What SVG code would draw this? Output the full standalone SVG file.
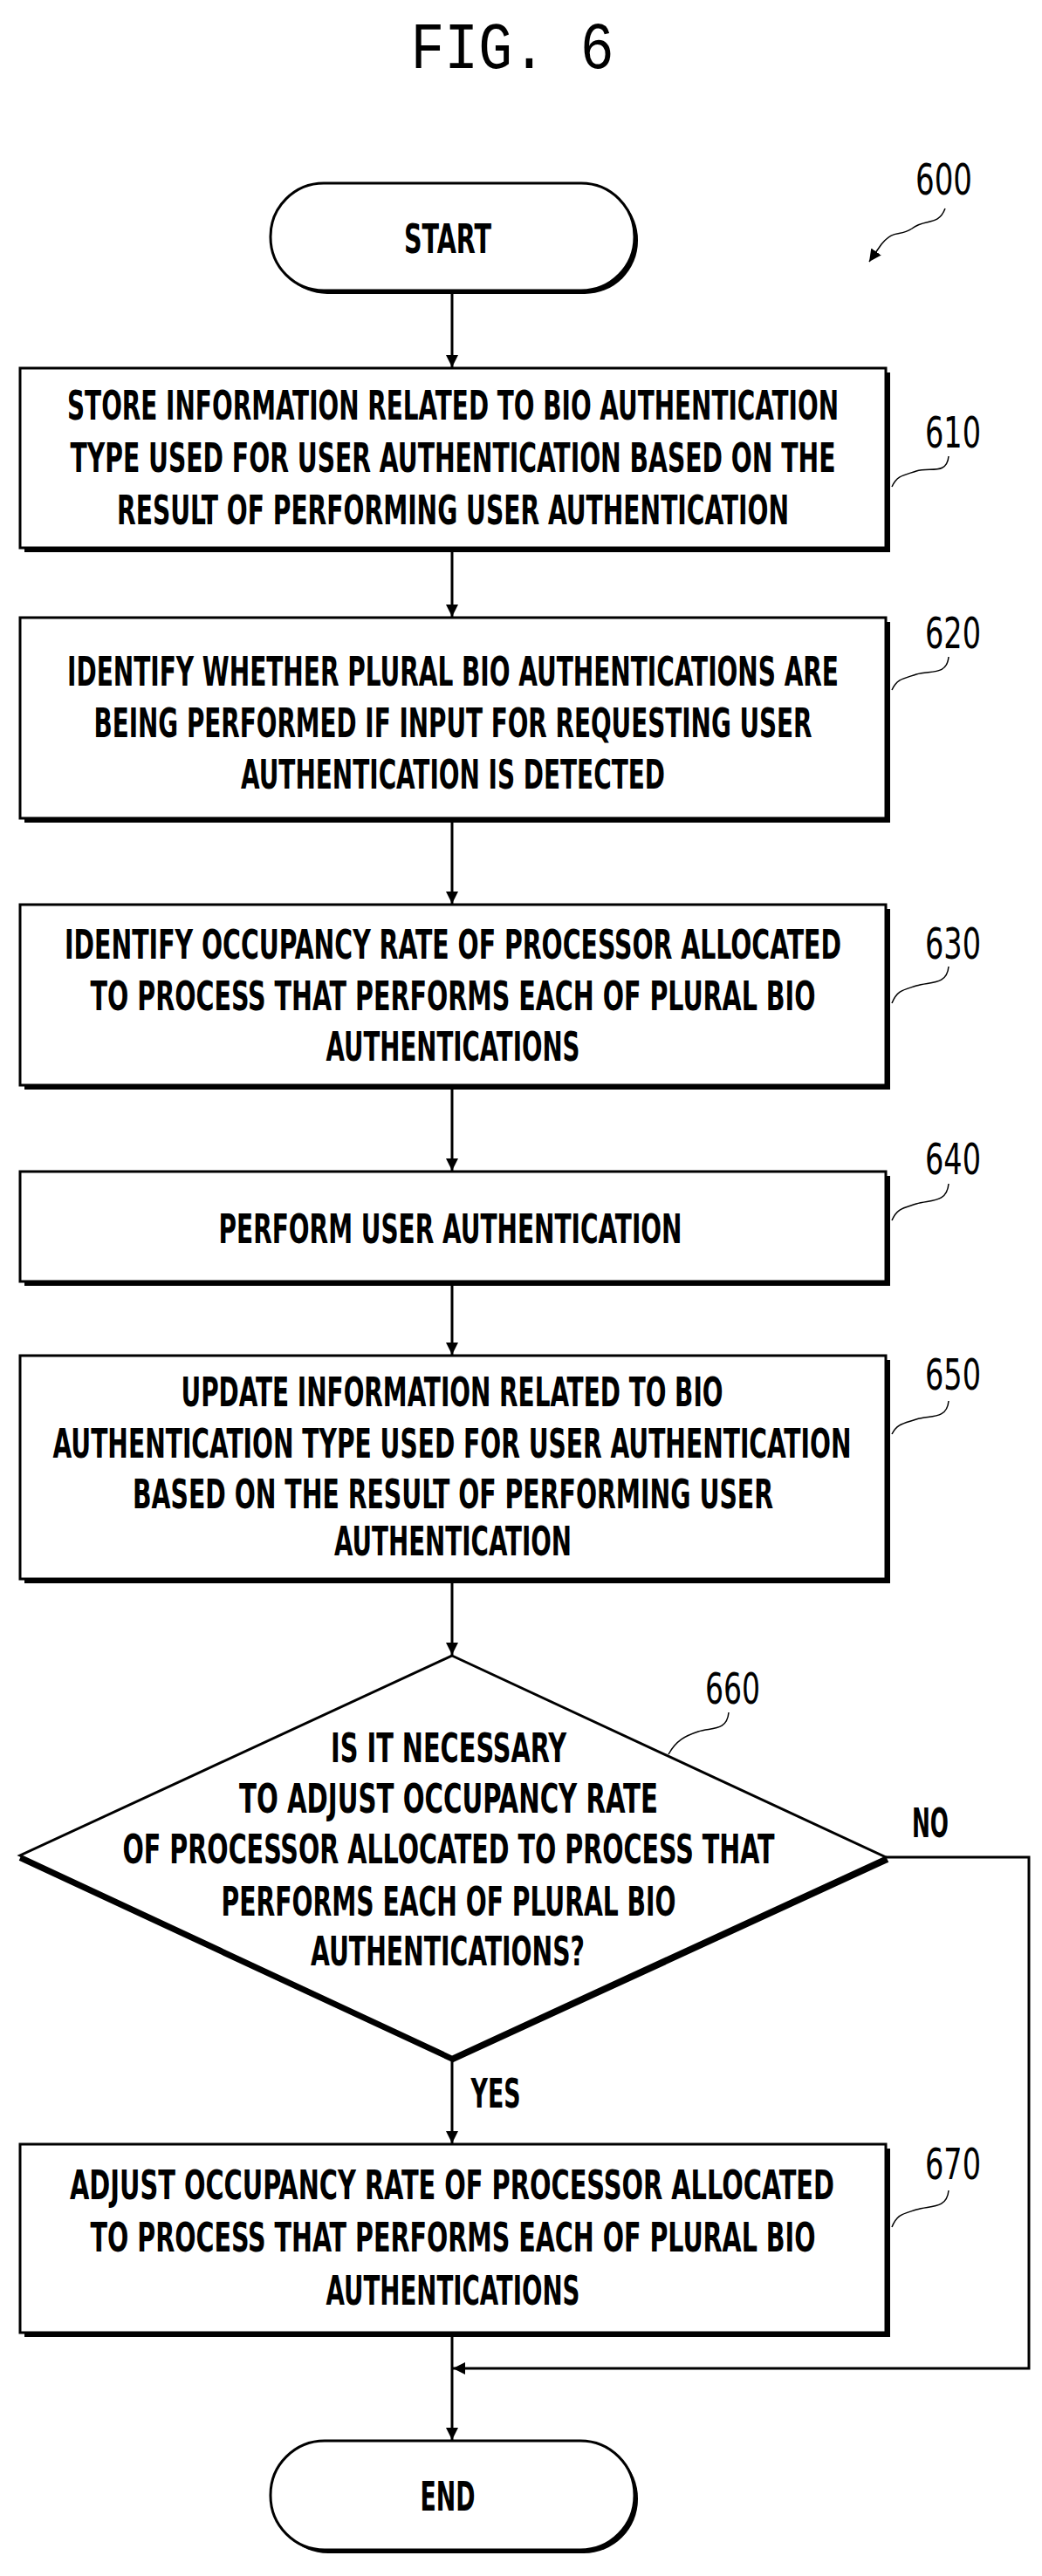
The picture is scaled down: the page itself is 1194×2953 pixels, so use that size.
<svg xmlns="http://www.w3.org/2000/svg" width="1194" height="2953" viewBox="0 0 1194 2953">
<defs>
<style>
.t{font-family:"Liberation Sans Narrow","DejaVu Sans Condensed","Liberation Sans",sans-serif;font-size:46px;font-weight:bold;text-anchor:middle;fill:#000}
.n{font-family:"Liberation Sans Narrow","DejaVu Sans Condensed","Liberation Sans",sans-serif;font-size:50px;fill:#000}
.b{fill:#fff;stroke:#000;stroke-width:3}
.s{fill:none;stroke:#000;stroke-width:6}
.l{fill:none;stroke:#000;stroke-width:3}
.q{fill:none;stroke:#000;stroke-width:1.5}
</style>
<marker id="a" viewBox="0 0 10 10" refX="10" refY="5" markerWidth="14" markerHeight="22" markerUnits="userSpaceOnUse" orient="auto"><path d="M0,0 L10,5 L0,10 z" fill="#000"/></marker>
</defs>
<rect width="1194" height="2953" fill="#fff"/>
<text x="587" y="78" font-family="Liberation Mono,monospace" font-size="76" text-anchor="middle" textLength="233" lengthAdjust="spacingAndGlyphs">FIG. 6</text>
<g id="label600"><text class="n" x="1049" y="223" textLength="65" lengthAdjust="spacingAndGlyphs">600</text>
<path class="q" d="M1083,239 C1075,260 1060,250 1045,262 C1030,272 1025,262 1010,280 L996,300" marker-end="url(#a)"/></g>
<g id="connectors">
<line class="l" x1="518" y1="334" x2="518" y2="421" marker-end="url(#a)"/>
<line class="l" x1="518" y1="632" x2="518" y2="707" marker-end="url(#a)"/>
<line class="l" x1="518" y1="942" x2="518" y2="1036" marker-end="url(#a)"/>
<line class="l" x1="518" y1="1248" x2="518" y2="1342" marker-end="url(#a)"/>
<line class="l" x1="518" y1="1473" x2="518" y2="1553" marker-end="url(#a)"/>
<line class="l" x1="518" y1="1814" x2="518" y2="1897" marker-end="url(#a)"/>
<line class="l" x1="518" y1="2360" x2="518" y2="2457" marker-end="url(#a)"/>
<line class="l" x1="518" y1="2678" x2="518" y2="2797" marker-end="url(#a)"/>
<polyline class="l" points="1015,2129 1179,2129 1179,2715 519,2715" marker-end="url(#a)"/>
<text class="t" x="568" y="2416" textLength="57" lengthAdjust="spacingAndGlyphs">YES</text>
<text class="t" x="1066" y="2106" textLength="42" lengthAdjust="spacingAndGlyphs">NO</text>
</g>
<g id="start">
<rect x="314" y="214" width="417" height="123" rx="61" fill="#000"/>
<rect class="b" x="310" y="210" width="417" height="123" rx="61"/>
<text class="t" x="513" y="290" textLength="100" lengthAdjust="spacingAndGlyphs">START</text>
</g>
<g id="n610">
<rect x="28" y="427" width="992" height="206" fill="#000"/>
<rect class="b" x="23" y="422" width="992" height="206"/>
<text class="t" x="519" y="481" textLength="884" lengthAdjust="spacingAndGlyphs">STORE INFORMATION RELATED TO BIO AUTHENTICATION</text>
<text class="t" x="519" y="541" textLength="877" lengthAdjust="spacingAndGlyphs">TYPE USED FOR USER AUTHENTICATION BASED ON THE</text>
<text class="t" x="519" y="601" textLength="770" lengthAdjust="spacingAndGlyphs">RESULT OF PERFORMING USER AUTHENTICATION</text>
<text class="n" x="1060" y="513" textLength="64" lengthAdjust="spacingAndGlyphs">610</text>
<path class="q" d="M1087,523 C1085,545 1065,535 1050,540 C1035,545 1028,545 1022,558"/>
</g>
<g id="n620">
<rect x="28" y="713" width="992" height="230" fill="#000"/>
<rect class="b" x="23" y="708" width="992" height="230"/>
<text class="t" x="519" y="786" textLength="884" lengthAdjust="spacingAndGlyphs">IDENTIFY WHETHER PLURAL BIO AUTHENTICATIONS ARE</text>
<text class="t" x="519" y="845" textLength="823" lengthAdjust="spacingAndGlyphs">BEING PERFORMED IF INPUT FOR REQUESTING USER</text>
<text class="t" x="519" y="904" textLength="486" lengthAdjust="spacingAndGlyphs">AUTHENTICATION IS DETECTED</text>
<text class="n" x="1060" y="743" textLength="64" lengthAdjust="spacingAndGlyphs">620</text>
<path class="q" d="M1087,753 C1085,775 1065,768 1050,773 C1035,778 1028,778 1022,791"/>
</g>
<g id="n630">
<rect x="28" y="1042" width="992" height="207" fill="#000"/>
<rect class="b" x="23" y="1037" width="992" height="207"/>
<text class="t" x="519" y="1099" textLength="890" lengthAdjust="spacingAndGlyphs">IDENTIFY OCCUPANCY RATE OF PROCESSOR ALLOCATED</text>
<text class="t" x="519" y="1158" textLength="831" lengthAdjust="spacingAndGlyphs">TO PROCESS THAT PERFORMS EACH OF PLURAL BIO</text>
<text class="t" x="519" y="1216" textLength="291" lengthAdjust="spacingAndGlyphs">AUTHENTICATIONS</text>
<text class="n" x="1060" y="1099" textLength="64" lengthAdjust="spacingAndGlyphs">630</text>
<path class="q" d="M1087,1108 C1085,1130 1065,1125 1050,1130 C1035,1135 1028,1135 1022,1150"/>
</g>
<g id="n640">
<rect x="28" y="1348" width="992" height="126" fill="#000"/>
<rect class="b" x="23" y="1343" width="992" height="126"/>
<text class="t" x="516" y="1425" textLength="531" lengthAdjust="spacingAndGlyphs">PERFORM USER AUTHENTICATION</text>
<text class="n" x="1060" y="1346" textLength="64" lengthAdjust="spacingAndGlyphs">640</text>
<path class="q" d="M1087,1357 C1085,1380 1065,1375 1050,1380 C1035,1385 1028,1385 1022,1399"/>
</g>
<g id="n650">
<rect x="28" y="1559" width="992" height="256" fill="#000"/>
<rect class="b" x="23" y="1554" width="992" height="256"/>
<text class="t" x="518" y="1612" textLength="621" lengthAdjust="spacingAndGlyphs">UPDATE INFORMATION RELATED TO BIO</text>
<text class="t" x="518" y="1671" textLength="915" lengthAdjust="spacingAndGlyphs">AUTHENTICATION TYPE USED FOR USER AUTHENTICATION</text>
<text class="t" x="519" y="1729" textLength="734" lengthAdjust="spacingAndGlyphs">BASED ON THE RESULT OF PERFORMING USER</text>
<text class="t" x="519" y="1783" textLength="272" lengthAdjust="spacingAndGlyphs">AUTHENTICATION</text>
<text class="n" x="1060" y="1593" textLength="64" lengthAdjust="spacingAndGlyphs">650</text>
<path class="q" d="M1087,1606 C1085,1628 1065,1622 1050,1627 C1035,1632 1028,1632 1022,1644"/>
</g>
<g id="n660">
<polyline class="s" points="1017,2132 519,2361 23,2130"/>
<polygon class="b" points="518,1898 1015,2129 518,2358 23,2127"/>
<text class="t" x="514" y="2020" textLength="270" lengthAdjust="spacingAndGlyphs">IS IT NECESSARY</text>
<text class="t" x="514" y="2078" textLength="480" lengthAdjust="spacingAndGlyphs">TO ADJUST OCCUPANCY RATE</text>
<text class="t" x="514" y="2136" textLength="747" lengthAdjust="spacingAndGlyphs">OF PROCESSOR ALLOCATED TO PROCESS THAT</text>
<text class="t" x="514" y="2196" textLength="521" lengthAdjust="spacingAndGlyphs">PERFORMS EACH OF PLURAL BIO</text>
<text class="t" x="513" y="2253" textLength="314" lengthAdjust="spacingAndGlyphs">AUTHENTICATIONS?</text>
<text class="n" x="808" y="1953" textLength="63" lengthAdjust="spacingAndGlyphs">660</text>
<path class="q" d="M835,1963 C833,1985 815,1980 800,1985 C785,1990 775,1995 766,2011"/>
</g>
<g id="n670">
<rect x="28" y="2463" width="992" height="216" fill="#000"/>
<rect class="b" x="23" y="2458" width="992" height="216"/>
<text class="t" x="518" y="2521" textLength="876" lengthAdjust="spacingAndGlyphs">ADJUST OCCUPANCY RATE OF PROCESSOR ALLOCATED</text>
<text class="t" x="519" y="2581" textLength="831" lengthAdjust="spacingAndGlyphs">TO PROCESS THAT PERFORMS EACH OF PLURAL BIO</text>
<text class="t" x="519" y="2642" textLength="291" lengthAdjust="spacingAndGlyphs">AUTHENTICATIONS</text>
<text class="n" x="1060" y="2498" textLength="64" lengthAdjust="spacingAndGlyphs">670</text>
<path class="q" d="M1087,2511 C1085,2533 1065,2528 1050,2533 C1035,2538 1028,2538 1022,2553"/>
</g>
<g id="end">
<rect x="314" y="2802" width="417" height="125" rx="62" fill="#000"/>
<rect class="b" x="310" y="2798" width="417" height="125" rx="62"/>
<text class="t" x="513" y="2878" textLength="63" lengthAdjust="spacingAndGlyphs">END</text>
</g>
</svg>
